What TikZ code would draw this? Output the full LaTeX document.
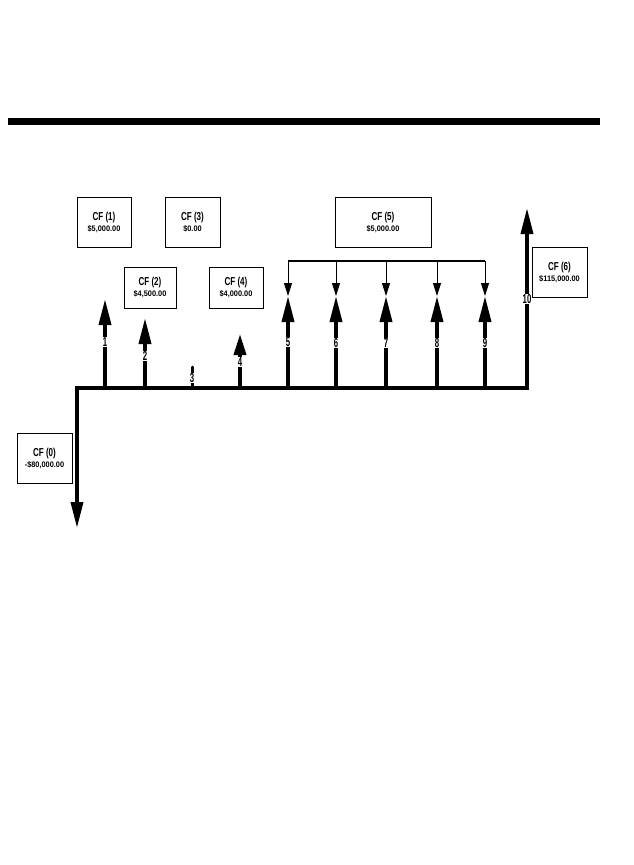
\documentclass[tikz,border=0pt]{standalone}
\usepackage{fontspec}
\usepackage{graphicx}
\setmainfont{Liberation Sans}
\usetikzlibrary{arrows.meta}
\tikzset{
  cfbox/.style={draw, line width=0.8pt, inner sep=0pt, align=center, font=\bfseries},
  bigarrow/.style={line width=3.6pt, -{Triangle[length=26pt,width=12pt]}},
  thinarrow/.style={line width=1pt, -{Triangle[length=13pt,width=8pt]}},
  axis/.style={line width=3.6pt},
  lbl/.style={fill=white, inner sep=0.5pt, font=\bfseries\fontsize{13}{13}\selectfont},
}
\newcommand{\cftext}[2]{\scalebox{0.7}[1]{\fontsize{11.5}{12}\selectfont #1}\\[-1pt]\scalebox{0.92}[1]{\fontsize{8}{9}\selectfont #2}}
\newcommand{\dg}[1]{\scalebox{0.6}[1]{#1}}
\begin{document}
\begin{tikzpicture}[x=1pt,y=-1pt]
\useasboundingbox (0,0) rectangle (633,865);
% top rule
\fill (8,118) rectangle (600,124.5);
% boxes
\node[cfbox, minimum width=54pt, minimum height=50pt] (b1) at (104,222) {\cftext{CF (1)}{\$5,000.00}};
\node[cfbox, minimum width=55pt, minimum height=50pt] (b3) at (192.5,222) {\cftext{CF (3)}{\$0.00}};
\node[cfbox, minimum width=52pt, minimum height=41pt] (b2) at (150,287.5) {\cftext{CF (2)}{\$4,500.00}};
\node[cfbox, minimum width=54pt, minimum height=41pt] (b4) at (236,287.5) {\cftext{CF (4)}{\$4,000.00}};
\node[cfbox, minimum width=96pt, minimum height=50pt] (b5) at (383,222) {\cftext{CF (5)}{\$5,000.00}};
\node[cfbox, minimum width=55pt, minimum height=50pt] (b6) at (559.5,272) {\cftext{CF (6)}{\$115,000.00}};
\node[cfbox, minimum width=55pt, minimum height=50pt] (b0) at (44.5,458) {\cftext{CF (0)}{-\$80,000.00}};
% timeline coordinates
\coordinate (t0) at (77,388);
\coordinate (t1) at (105,388);
\coordinate (t2) at (145,388);
\coordinate (t3) at (192,388);
\coordinate (t4) at (240,388);
\coordinate (t5) at (288,388);
\coordinate (t6) at (336,388);
\coordinate (t7) at (386,388);
\coordinate (t8) at (437,388);
\coordinate (t9) at (485,388);
\coordinate (t10) at (527,388);
% arrow tips
\coordinate (d0) at (77,528);
\coordinate (h1) at (105,299);
\coordinate (h2) at (145,318);
\coordinate (h3) at (192,367);
\coordinate (h4) at (240,334);
\coordinate (h5) at (288,296);
\coordinate (h6) at (336,296);
\coordinate (h7) at (386,296);
\coordinate (h8) at (437,296);
\coordinate (h9) at (485,296);
\coordinate (h10) at (527,208);
% bracket
\coordinate (k5) at (288,261);
\coordinate (k6) at (336,261);
\coordinate (k7) at (386,261);
\coordinate (k8) at (437,261);
\coordinate (k9) at (485,261);
% axis
\draw[axis, line cap=rect] (t0) -- (t10);
\draw[bigarrow] ([yshift=-1.8pt]t0) -- (d0);
\draw[bigarrow] ([yshift=1.8pt]t10) -- (h10);
% up arrows
\draw[bigarrow] (t1) -- (h1);
\draw[bigarrow] (t2) -- (h2);
\draw[line width=3pt, line cap=round] (t3) -- (h3);
\draw[line width=3.6pt, -{Triangle[length=21pt,width=12pt]}] (t4) -- (h4);
\foreach \i in {5,...,9} {\draw[bigarrow] (t\i) -- (h\i);}
% bracket lines
\draw[line width=1.6pt] (k5) -- (k9);
\foreach \i in {5,...,9} {\draw[thinarrow] (k\i) -- (h\i);}
% labels
\node[lbl] (l1) at (105,342) {\dg{1}};
\node[lbl] (l2) at (145,356) {\dg{2}};
\node[lbl] (l3) at (192,378) {\dg{3}};
\node[lbl] (l4) at (240,362) {\dg{4}};
\node[lbl] (l5) at (288,342) {\dg{5}};
\node[lbl] (l6) at (336,343) {\dg{6}};
\node[lbl] (l7) at (386,343) {\dg{7}};
\node[lbl] (l8) at (437,343) {\dg{8}};
\node[lbl] (l9) at (485,343) {\dg{9}};
\node[lbl] (l10) at (527,299) {\dg{10}};
\end{tikzpicture}
\end{document}
